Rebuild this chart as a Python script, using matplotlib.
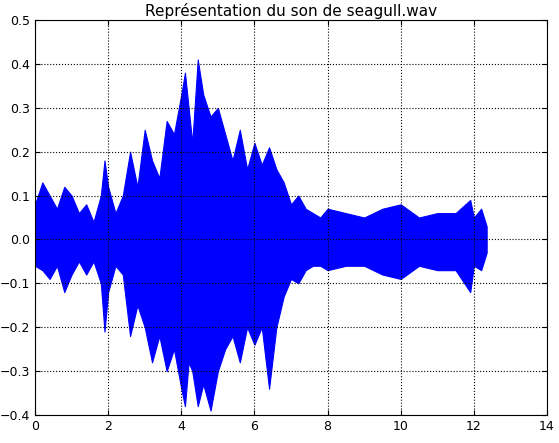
import matplotlib
matplotlib.use('Agg')
from matplotlib import pyplot as plt

# Envelope of the waveform (time in s, amplitude)
temps = [0.0, 0.2, 0.4, 0.6, 0.8, 1.0, 1.2, 1.4, 1.6, 1.8, 1.9, 2.0, 2.2, 2.4, 2.6, 2.8,
         3.0, 3.2, 3.4, 3.6, 3.8, 4.0, 4.1, 4.2, 4.3, 4.45, 4.6, 4.8, 5.0, 5.2, 5.4, 5.6,
         5.8, 6.0, 6.2, 6.4, 6.6, 6.8, 7.0, 7.2, 7.4, 7.6, 7.8, 8.0, 8.5, 9.0, 9.5, 10.0,
         10.5, 11.0, 11.5, 11.9, 12.0, 12.2, 12.35]
haut = [0.08, 0.13, 0.10, 0.07, 0.12, 0.10, 0.06, 0.08, 0.04, 0.10, 0.18, 0.12, 0.06, 0.10, 0.20, 0.12,
        0.25, 0.18, 0.14, 0.27, 0.24, 0.33, 0.38, 0.30, 0.22, 0.41, 0.33, 0.28, 0.30, 0.24, 0.18, 0.25,
        0.16, 0.22, 0.17, 0.21, 0.16, 0.13, 0.08, 0.10, 0.07, 0.06, 0.05, 0.07, 0.06, 0.05, 0.07, 0.08,
        0.05, 0.06, 0.06, 0.09, 0.05, 0.07, 0.03]
bas = [-0.06, -0.07, -0.09, -0.06, -0.12, -0.08, -0.05, -0.08, -0.05, -0.10, -0.21, -0.12, -0.06, -0.08, -0.22, -0.15,
       -0.20, -0.28, -0.22, -0.30, -0.25, -0.34, -0.38, -0.28, -0.30, -0.38, -0.33, -0.39, -0.30, -0.25, -0.22, -0.28,
       -0.20, -0.24, -0.20, -0.34, -0.20, -0.13, -0.09, -0.10, -0.07, -0.06, -0.06, -0.07, -0.06, -0.06, -0.08, -0.09,
       -0.06, -0.07, -0.07, -0.12, -0.06, -0.07, -0.03]

fig = plt.figure(figsize=(5.59, 4.43), dpi=100, facecolor='white')
ax = fig.add_axes([35/559, 28/443, 512/559, 395/443])
ax.fill_between(temps, bas, haut, color='blue', linewidth=0.8, edgecolor='blue')
ax.set_xlim(0, 14)
ax.set_ylim(-0.4, 0.5)
ax.set_xticks(range(0, 15, 2))
ax.set_yticks([-0.4, -0.3, -0.2, -0.1, 0.0, 0.1, 0.2, 0.3, 0.4, 0.5])
ax.grid(True, linestyle=':', color='black', linewidth=0.8)
ax.tick_params(direction='in', top=True, right=True, labelsize=9)
ax.set_title("Représentation du son de seagull.wav", fontsize=11, pad=3)

plt.savefig('out.png', dpi=100)
